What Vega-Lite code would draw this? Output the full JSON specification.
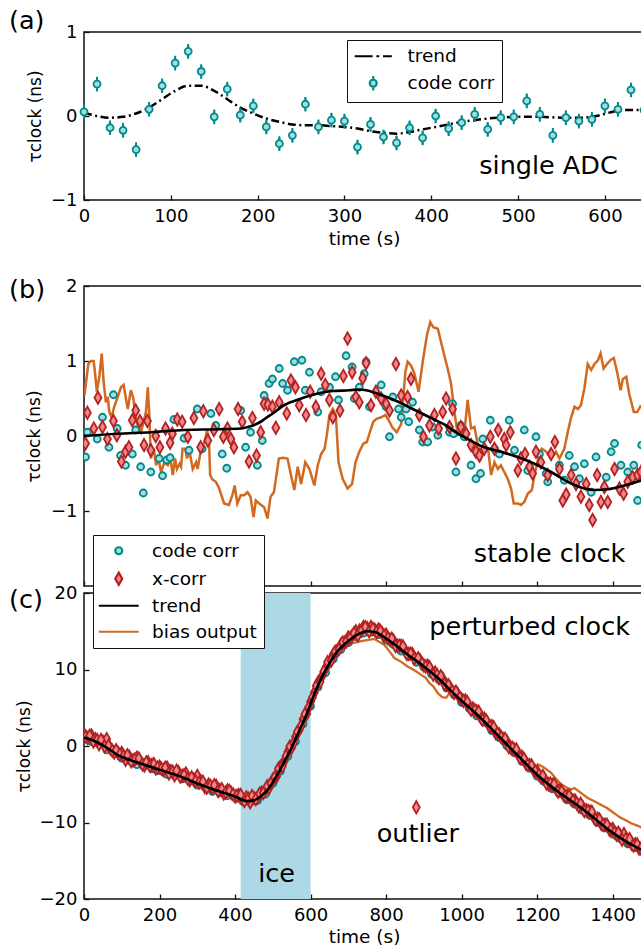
{
  "$schema": "https://vega.github.io/schema/vega-lite/v6.json",
  "padding": {"left": 8, "top": 7, "right": 0, "bottom": 0},
  "config": {
    "font": "DejaVu Sans",
    "view": {"stroke": "#111", "strokeWidth": 1.5},
    "axis": {"domain": false, "grid": false, "tickSize": -5, "tickColor": "#111", "tickWidth": 1.3, "labelFontSize": 18, "labelColor": "#000", "labelFont": "DejaVu Sans", "titleFont": "DejaVu Sans", "titleFontSize": 18.5, "titleFontWeight": "normal", "titleColor": "#000", "labelPadding": 12, "titlePadding": 6, "labelFlush": false, "format": "d"},
    "title": {"fontSize": 25.5, "fontWeight": "normal", "anchor": "start", "frame": "group", "dx": -75, "offset": 0, "baseline": "alphabetic", "color": "#000", "font": "DejaVu Sans"}
  },
  "datasets": {
    "a_pts": [
      {"t":0,"v":0.05,"err":0.08,"s":"code corr"},{"t":15,"v":0.38,"err":0.08,"s":"code corr"},{"t":30,"v":-0.14,"err":0.08,"s":"code corr"},{"t":45,"v":-0.17,"err":0.08,"s":"code corr"},{"t":60,"v":-0.40,"err":0.08,"s":"code corr"},{"t":75,"v":0.08,"err":0.08,"s":"code corr"},{"t":90,"v":0.36,"err":0.08,"s":"code corr"},{"t":105,"v":0.63,"err":0.08,"s":"code corr"},{"t":120,"v":0.77,"err":0.08,"s":"code corr"},{"t":135,"v":0.53,"err":0.08,"s":"code corr"},{"t":150,"v":-0.01,"err":0.08,"s":"code corr"},{"t":165,"v":0.32,"err":0.08,"s":"code corr"},{"t":180,"v":0.01,"err":0.08,"s":"code corr"},{"t":195,"v":0.12,"err":0.08,"s":"code corr"},{"t":210,"v":-0.13,"err":0.08,"s":"code corr"},{"t":225,"v":-0.33,"err":0.08,"s":"code corr"},{"t":240,"v":-0.23,"err":0.08,"s":"code corr"},{"t":255,"v":0.14,"err":0.08,"s":"code corr"},{"t":270,"v":-0.13,"err":0.08,"s":"code corr"},{"t":285,"v":-0.05,"err":0.08,"s":"code corr"},{"t":300,"v":-0.06,"err":0.08,"s":"code corr"},{"t":315,"v":-0.37,"err":0.08,"s":"code corr"},{"t":330,"v":-0.10,"err":0.08,"s":"code corr"},{"t":345,"v":-0.25,"err":0.08,"s":"code corr"},{"t":360,"v":-0.32,"err":0.08,"s":"code corr"},{"t":375,"v":-0.14,"err":0.08,"s":"code corr"},{"t":390,"v":-0.26,"err":0.08,"s":"code corr"},{"t":405,"v":0.00,"err":0.08,"s":"code corr"},{"t":420,"v":-0.15,"err":0.08,"s":"code corr"},{"t":435,"v":-0.08,"err":0.08,"s":"code corr"},{"t":450,"v":0.02,"err":0.08,"s":"code corr"},{"t":465,"v":-0.16,"err":0.08,"s":"code corr"},{"t":480,"v":-0.02,"err":0.08,"s":"code corr"},{"t":495,"v":-0.01,"err":0.08,"s":"code corr"},{"t":510,"v":0.18,"err":0.08,"s":"code corr"},{"t":525,"v":0.02,"err":0.08,"s":"code corr"},{"t":540,"v":-0.23,"err":0.08,"s":"code corr"},{"t":555,"v":-0.02,"err":0.08,"s":"code corr"},{"t":570,"v":-0.06,"err":0.08,"s":"code corr"},{"t":585,"v":-0.04,"err":0.08,"s":"code corr"},{"t":600,"v":0.12,"err":0.08,"s":"code corr"},{"t":615,"v":0.08,"err":0.08,"s":"code corr"},{"t":630,"v":0.31,"err":0.08,"s":"code corr"},{"t":645,"v":0.07,"err":0.08,"s":"code corr"}
    ],
    "a_trend": [
      {"t":0,"v":0.04},{"t":15,"v":0.0},{"t":30,"v":-0.02},{"t":45,"v":-0.01},{"t":60,"v":0.03},{"t":75,"v":0.1},{"t":90,"v":0.2},{"t":105,"v":0.3},{"t":120,"v":0.36},{"t":135,"v":0.36},{"t":150,"v":0.3},{"t":165,"v":0.2},{"t":180,"v":0.1},{"t":195,"v":0.03},{"t":210,"v":-0.03},{"t":225,"v":-0.07},{"t":240,"v":-0.1},{"t":255,"v":-0.11},{"t":270,"v":-0.11},{"t":285,"v":-0.12},{"t":300,"v":-0.13},{"t":315,"v":-0.15},{"t":330,"v":-0.18},{"t":345,"v":-0.2},{"t":360,"v":-0.21},{"t":375,"v":-0.19},{"t":390,"v":-0.16},{"t":405,"v":-0.13},{"t":420,"v":-0.1},{"t":435,"v":-0.07},{"t":450,"v":-0.05},{"t":465,"v":-0.03},{"t":480,"v":-0.02},{"t":500,"v":-0.01},{"t":525,"v":-0.01},{"t":550,"v":-0.02},{"t":575,"v":-0.02},{"t":590,"v":0.0},{"t":605,"v":0.04},{"t":620,"v":0.07},{"t":645,"v":0.07}
    ],
    "a_text": [{"t":535,"v":-0.69,"label":"single ADC"}],
    "b_pts": [
      {"t":4,"v":-0.28,"s":"code corr"},{"t":9,"v":0.05,"s":"code corr"},{"t":35,"v":-0.04,"s":"code corr"},{"t":49,"v":0.25,"s":"code corr"},{"t":66,"v":-0.15,"s":"code corr"},{"t":78,"v":0.55,"s":"code corr"},{"t":88,"v":0.10,"s":"code corr"},{"t":97,"v":-0.26,"s":"code corr"},{"t":110,"v":-0.39,"s":"code corr"},{"t":128,"v":-0.24,"s":"code corr"},{"t":137,"v":0.08,"s":"code corr"},{"t":150,"v":-0.41,"s":"code corr"},{"t":157,"v":-0.76,"s":"code corr"},{"t":177,"v":-0.48,"s":"code corr"},{"t":199,"v":-0.30,"s":"code corr"},{"t":208,"v":-0.53,"s":"code corr"},{"t":219,"v":-0.32,"s":"code corr"},{"t":228,"v":-0.29,"s":"code corr"},{"t":238,"v":0.22,"s":"code corr"},{"t":265,"v":-0.03,"s":"code corr"},{"t":278,"v":-0.19,"s":"code corr"},{"t":300,"v":0.36,"s":"code corr"},{"t":313,"v":-0.17,"s":"code corr"},{"t":336,"v":0.30,"s":"code corr"},{"t":349,"v":0.14,"s":"code corr"},{"t":366,"v":-0.24,"s":"code corr"},{"t":378,"v":-0.43,"s":"code corr"},{"t":415,"v":0.34,"s":"code corr"},{"t":428,"v":-0.15,"s":"code corr"},{"t":441,"v":0.05,"s":"code corr"},{"t":459,"v":-0.39,"s":"code corr"},{"t":472,"v":-0.06,"s":"code corr"},{"t":477,"v":0.54,"s":"code corr"},{"t":490,"v":0.70,"s":"code corr"},{"t":499,"v":0.76,"s":"code corr"},{"t":517,"v":0.90,"s":"code corr"},{"t":526,"v":0.70,"s":"code corr"},{"t":539,"v":0.61,"s":"code corr"},{"t":557,"v":0.99,"s":"code corr"},{"t":577,"v":1.01,"s":"code corr"},{"t":586,"v":0.61,"s":"code corr"},{"t":597,"v":0.85,"s":"code corr"},{"t":619,"v":0.32,"s":"code corr"},{"t":628,"v":0.59,"s":"code corr"},{"t":650,"v":0.65,"s":"code corr"},{"t":666,"v":0.79,"s":"code corr"},{"t":674,"v":0.48,"s":"code corr"},{"t":694,"v":1.07,"s":"code corr"},{"t":710,"v":0.92,"s":"code corr"},{"t":716,"v":0.50,"s":"code corr"},{"t":729,"v":0.65,"s":"code corr"},{"t":742,"v":0.83,"s":"code corr"},{"t":747,"v":0.99,"s":"code corr"},{"t":756,"v":0.39,"s":"code corr"},{"t":787,"v":0.68,"s":"code corr"},{"t":800,"v":0.39,"s":"code corr"},{"t":809,"v":-0.01,"s":"code corr"},{"t":818,"v":0.52,"s":"code corr"},{"t":833,"v":0.36,"s":"code corr"},{"t":840,"v":0.25,"s":"code corr"},{"t":853,"v":0.36,"s":"code corr"},{"t":860,"v":0.19,"s":"code corr"},{"t":870,"v":0.45,"s":"code corr"},{"t":888,"v":0.08,"s":"code corr"},{"t":897,"v":-0.08,"s":"code corr"},{"t":910,"v":-0.08,"s":"code corr"},{"t":923,"v":0.12,"s":"code corr"},{"t":937,"v":0.01,"s":"code corr"},{"t":968,"v":0.05,"s":"code corr"},{"t":976,"v":0.43,"s":"code corr"},{"t":979,"v":0.03,"s":"code corr"},{"t":985,"v":-0.48,"s":"code corr"},{"t":998,"v":0.14,"s":"code corr"},{"t":1007,"v":-0.01,"s":"code corr"},{"t":1025,"v":-0.39,"s":"code corr"},{"t":1038,"v":-0.57,"s":"code corr"},{"t":1050,"v":-0.50,"s":"code corr"},{"t":1056,"v":-0.04,"s":"code corr"},{"t":1076,"v":0.21,"s":"code corr"},{"t":1087,"v":-0.17,"s":"code corr"},{"t":1100,"v":-0.24,"s":"code corr"},{"t":1126,"v":0.21,"s":"code corr"},{"t":1140,"v":-0.19,"s":"code corr"},{"t":1166,"v":0.08,"s":"code corr"},{"t":1175,"v":-0.46,"s":"code corr"},{"t":1197,"v":-0.01,"s":"code corr"},{"t":1206,"v":-0.24,"s":"code corr"},{"t":1224,"v":-0.50,"s":"code corr"},{"t":1228,"v":-0.61,"s":"code corr"},{"t":1259,"v":-0.39,"s":"code corr"},{"t":1272,"v":-0.59,"s":"code corr"},{"t":1285,"v":-0.26,"s":"code corr"},{"t":1299,"v":-0.41,"s":"code corr"},{"t":1312,"v":-0.57,"s":"code corr"},{"t":1325,"v":-0.37,"s":"code corr"},{"t":1343,"v":-0.75,"s":"code corr"},{"t":1356,"v":-0.28,"s":"code corr"},{"t":1383,"v":-0.55,"s":"code corr"},{"t":1396,"v":-0.21,"s":"code corr"},{"t":1405,"v":-0.10,"s":"code corr"},{"t":1422,"v":-0.39,"s":"code corr"},{"t":1440,"v":-0.48,"s":"code corr"},{"t":1456,"v":-0.39,"s":"code corr"},{"t":1466,"v":-0.86,"s":"code corr"},{"t":1477,"v":-0.12,"s":"code corr"},
      {"t":4,"v":-0.10,"s":"x-corr"},{"t":9,"v":0.31,"s":"x-corr"},{"t":26,"v":0.10,"s":"x-corr"},{"t":37,"v":0.51,"s":"x-corr"},{"t":49,"v":0.12,"s":"x-corr"},{"t":62,"v":-0.04,"s":"x-corr"},{"t":78,"v":0.20,"s":"x-corr"},{"t":87,"v":0.01,"s":"x-corr"},{"t":99,"v":-0.34,"s":"x-corr"},{"t":110,"v":-0.21,"s":"x-corr"},{"t":119,"v":-0.15,"s":"x-corr"},{"t":128,"v":0.21,"s":"x-corr"},{"t":137,"v":0.34,"s":"x-corr"},{"t":148,"v":0.20,"s":"x-corr"},{"t":159,"v":-0.12,"s":"x-corr"},{"t":168,"v":0.20,"s":"x-corr"},{"t":177,"v":-0.19,"s":"x-corr"},{"t":190,"v":0.00,"s":"x-corr"},{"t":201,"v":-0.15,"s":"x-corr"},{"t":216,"v":0.10,"s":"x-corr"},{"t":228,"v":-0.09,"s":"x-corr"},{"t":234,"v":0.03,"s":"x-corr"},{"t":247,"v":0.22,"s":"x-corr"},{"t":260,"v":0.19,"s":"x-corr"},{"t":275,"v":-0.01,"s":"x-corr"},{"t":291,"v":0.24,"s":"x-corr"},{"t":309,"v":-0.15,"s":"x-corr"},{"t":316,"v":0.33,"s":"x-corr"},{"t":328,"v":-0.06,"s":"x-corr"},{"t":344,"v":0.08,"s":"x-corr"},{"t":358,"v":0.36,"s":"x-corr"},{"t":369,"v":-0.01,"s":"x-corr"},{"t":380,"v":0.10,"s":"x-corr"},{"t":389,"v":-0.04,"s":"x-corr"},{"t":397,"v":-0.15,"s":"x-corr"},{"t":408,"v":0.36,"s":"x-corr"},{"t":419,"v":0.19,"s":"x-corr"},{"t":437,"v":-0.34,"s":"x-corr"},{"t":446,"v":0.24,"s":"x-corr"},{"t":457,"v":-0.26,"s":"x-corr"},{"t":468,"v":0.05,"s":"x-corr"},{"t":477,"v":0.43,"s":"x-corr"},{"t":487,"v":0.42,"s":"x-corr"},{"t":499,"v":0.39,"s":"x-corr"},{"t":508,"v":0.11,"s":"x-corr"},{"t":517,"v":0.45,"s":"x-corr"},{"t":537,"v":0.30,"s":"x-corr"},{"t":548,"v":0.74,"s":"x-corr"},{"t":560,"v":0.65,"s":"x-corr"},{"t":570,"v":0.41,"s":"x-corr"},{"t":588,"v":0.28,"s":"x-corr"},{"t":599,"v":0.59,"s":"x-corr"},{"t":614,"v":0.39,"s":"x-corr"},{"t":628,"v":0.83,"s":"x-corr"},{"t":639,"v":0.68,"s":"x-corr"},{"t":650,"v":0.48,"s":"x-corr"},{"t":659,"v":0.25,"s":"x-corr"},{"t":678,"v":0.34,"s":"x-corr"},{"t":687,"v":0.80,"s":"x-corr"},{"t":698,"v":1.30,"s":"x-corr"},{"t":710,"v":0.85,"s":"x-corr"},{"t":720,"v":0.52,"s":"x-corr"},{"t":729,"v":0.45,"s":"x-corr"},{"t":738,"v":0.77,"s":"x-corr"},{"t":747,"v":0.97,"s":"x-corr"},{"t":760,"v":0.41,"s":"x-corr"},{"t":773,"v":0.59,"s":"x-corr"},{"t":787,"v":0.50,"s":"x-corr"},{"t":800,"v":0.43,"s":"x-corr"},{"t":809,"v":0.34,"s":"x-corr"},{"t":826,"v":0.96,"s":"x-corr"},{"t":840,"v":0.54,"s":"x-corr"},{"t":857,"v":0.52,"s":"x-corr"},{"t":866,"v":0.76,"s":"x-corr"},{"t":888,"v":0.28,"s":"x-corr"},{"t":899,"v":-0.01,"s":"x-corr"},{"t":915,"v":0.14,"s":"x-corr"},{"t":928,"v":0.28,"s":"x-corr"},{"t":939,"v":0.10,"s":"x-corr"},{"t":950,"v":0.32,"s":"x-corr"},{"t":959,"v":0.50,"s":"x-corr"},{"t":968,"v":0.12,"s":"x-corr"},{"t":976,"v":0.36,"s":"x-corr"},{"t":985,"v":-0.30,"s":"x-corr"},{"t":998,"v":0.12,"s":"x-corr"},{"t":1012,"v":0.03,"s":"x-corr"},{"t":1025,"v":-0.12,"s":"x-corr"},{"t":1038,"v":-0.21,"s":"x-corr"},{"t":1047,"v":-0.26,"s":"x-corr"},{"t":1060,"v":-0.17,"s":"x-corr"},{"t":1076,"v":-0.01,"s":"x-corr"},{"t":1087,"v":-0.17,"s":"x-corr"},{"t":1097,"v":0.08,"s":"x-corr"},{"t":1113,"v":-0.04,"s":"x-corr"},{"t":1118,"v":-0.12,"s":"x-corr"},{"t":1129,"v":0.05,"s":"x-corr"},{"t":1149,"v":-0.46,"s":"x-corr"},{"t":1157,"v":-0.30,"s":"x-corr"},{"t":1168,"v":-0.24,"s":"x-corr"},{"t":1180,"v":-0.41,"s":"x-corr"},{"t":1188,"v":-0.50,"s":"x-corr"},{"t":1197,"v":-0.21,"s":"x-corr"},{"t":1210,"v":-0.35,"s":"x-corr"},{"t":1228,"v":-0.52,"s":"x-corr"},{"t":1237,"v":-0.24,"s":"x-corr"},{"t":1247,"v":-0.08,"s":"x-corr"},{"t":1259,"v":-0.44,"s":"x-corr"},{"t":1268,"v":-0.86,"s":"x-corr"},{"t":1277,"v":-0.78,"s":"x-corr"},{"t":1290,"v":-0.52,"s":"x-corr"},{"t":1303,"v":-0.64,"s":"x-corr"},{"t":1316,"v":-0.81,"s":"x-corr"},{"t":1330,"v":-0.64,"s":"x-corr"},{"t":1338,"v":-0.92,"s":"x-corr"},{"t":1347,"v":-1.12,"s":"x-corr"},{"t":1359,"v":-0.52,"s":"x-corr"},{"t":1369,"v":-0.88,"s":"x-corr"},{"t":1378,"v":-0.68,"s":"x-corr"},{"t":1387,"v":-0.88,"s":"x-corr"},{"t":1405,"v":-0.44,"s":"x-corr"},{"t":1418,"v":-0.70,"s":"x-corr"},{"t":1429,"v":-0.77,"s":"x-corr"},{"t":1440,"v":-0.61,"s":"x-corr"},{"t":1453,"v":-0.55,"s":"x-corr"},{"t":1466,"v":-0.52,"s":"x-corr"},{"t":1475,"v":-0.48,"s":"x-corr"}
    ],
    "b_trend": [
      {"t":0,"v":0.0},{"t":88,"v":0.03},{"t":177,"v":0.05},{"t":265,"v":0.08},{"t":353,"v":0.09},{"t":415,"v":0.10},{"t":441,"v":0.13},{"t":468,"v":0.19},{"t":482,"v":0.24},{"t":503,"v":0.31},{"t":526,"v":0.40},{"t":570,"v":0.49},{"t":614,"v":0.56},{"t":659,"v":0.60},{"t":703,"v":0.61},{"t":729,"v":0.62},{"t":747,"v":0.61},{"t":791,"v":0.54},{"t":835,"v":0.45},{"t":879,"v":0.34},{"t":923,"v":0.23},{"t":959,"v":0.14},{"t":985,"v":0.05},{"t":1016,"v":-0.04},{"t":1060,"v":-0.15},{"t":1104,"v":-0.21},{"t":1149,"v":-0.28},{"t":1193,"v":-0.37},{"t":1237,"v":-0.48},{"t":1281,"v":-0.61},{"t":1325,"v":-0.70},{"t":1352,"v":-0.72},{"t":1387,"v":-0.71},{"t":1431,"v":-0.66},{"t":1483,"v":-0.58}
    ],
    "b_bias": [
      {"t":1,"v":0.54},{"t":11.5,"v":0.96},{"t":18.5,"v":1.0},{"t":25.6,"v":1.0},{"t":29,"v":0.85},{"t":34,"v":0.59},{"t":41,"v":0.81},{"t":47,"v":1.10},{"t":52,"v":0.72},{"t":58,"v":0.45},{"t":63,"v":0.52},{"t":67,"v":0.32},{"t":73,"v":0.25},{"t":80,"v":0.39},{"t":89,"v":0.52},{"t":98,"v":0.65},{"t":105,"v":0.68},{"t":111,"v":0.50},{"t":116,"v":0.36},{"t":124,"v":0.61},{"t":131,"v":0.50},{"t":135,"v":0.28},{"t":142,"v":0.14},{"t":151,"v":0.05},{"t":164,"v":0.32},{"t":169,"v":0.65},{"t":173,"v":0.28},{"t":177,"v":-0.30},{"t":185,"v":-0.17},{"t":191,"v":-0.39},{"t":197,"v":-0.30},{"t":204,"v":-0.48},{"t":213,"v":-0.35},{"t":222,"v":-0.39},{"t":229,"v":-0.30},{"t":235,"v":-0.52},{"t":241,"v":-0.30},{"t":246,"v":-0.44},{"t":253,"v":-0.37},{"t":257,"v":-0.41},{"t":261,"v":-0.17},{"t":268,"v":-0.17},{"t":273,"v":-0.30},{"t":279,"v":-0.19},{"t":288,"v":-0.44},{"t":297,"v":-0.35},{"t":301,"v":-0.44},{"t":310,"v":-0.17},{"t":319,"v":-0.08},{"t":326,"v":0.07},{"t":331,"v":-0.04},{"t":334,"v":-0.52},{"t":340,"v":-0.58},{"t":349,"v":-0.61},{"t":358,"v":-0.70},{"t":371,"v":-0.90},{"t":384,"v":-0.92},{"t":393,"v":-0.79},{"t":399,"v":-0.66},{"t":406,"v":-0.90},{"t":415,"v":-0.79},{"t":424,"v":-0.79},{"t":433,"v":-0.75},{"t":441,"v":-0.81},{"t":449,"v":-1.08},{"t":455,"v":-0.86},{"t":464,"v":-0.90},{"t":477,"v":-0.95},{"t":486,"v":-1.10},{"t":494,"v":-0.81},{"t":503,"v":-0.75},{"t":516,"v":-0.30},{"t":526,"v":-0.29},{"t":539,"v":-0.30},{"t":548,"v":-0.52},{"t":557,"v":-0.72},{"t":566,"v":-0.41},{"t":575,"v":-0.64},{"t":586,"v":-0.35},{"t":597,"v":-0.44},{"t":610,"v":-0.66},{"t":619,"v":-0.39},{"t":628,"v":-0.24},{"t":637,"v":-0.17},{"t":643,"v":0.01},{"t":650,"v":0.28},{"t":659,"v":0.36},{"t":667,"v":0.28},{"t":674,"v":-0.35},{"t":685,"v":-0.57},{"t":698,"v":-0.70},{"t":710,"v":-0.64},{"t":719,"v":-0.35},{"t":729,"v":-0.21},{"t":740,"v":-0.10},{"t":749,"v":-0.08},{"t":757,"v":0.05},{"t":766,"v":0.19},{"t":775,"v":0.23},{"t":787,"v":0.25},{"t":798,"v":0.28},{"t":807,"v":0.21},{"t":816,"v":0.12},{"t":828,"v":0.05},{"t":840,"v":0.16},{"t":851,"v":0.85},{"t":857,"v":0.99},{"t":866,"v":0.94},{"t":875,"v":0.83},{"t":886,"v":0.59},{"t":897,"v":0.99},{"t":908,"v":1.34},{"t":917,"v":1.52},{"t":925,"v":1.45},{"t":937,"v":1.43},{"t":950,"v":1.16},{"t":963,"v":0.90},{"t":972,"v":0.70},{"t":981,"v":0.32},{"t":990,"v":0.01},{"t":998,"v":0.14},{"t":1007,"v":0.03},{"t":1016,"v":0.48},{"t":1025,"v":0.10},{"t":1034,"v":0.12},{"t":1043,"v":-0.12},{"t":1051,"v":-0.30},{"t":1060,"v":-0.17},{"t":1071,"v":-0.21},{"t":1078,"v":-0.52},{"t":1087,"v":-0.35},{"t":1096,"v":-0.44},{"t":1104,"v":-0.39},{"t":1113,"v":-0.48},{"t":1122,"v":-0.57},{"t":1131,"v":-0.70},{"t":1138,"v":-0.90},{"t":1149,"v":-0.90},{"t":1157,"v":-0.92},{"t":1166,"v":-0.88},{"t":1175,"v":-0.77},{"t":1186,"v":-0.72},{"t":1193,"v":-0.52},{"t":1203,"v":-0.30},{"t":1212,"v":-0.17},{"t":1224,"v":-0.21},{"t":1237,"v":-0.30},{"t":1250,"v":-0.21},{"t":1259,"v":-0.30},{"t":1272,"v":-0.17},{"t":1281,"v":0.05},{"t":1290,"v":0.25},{"t":1299,"v":0.39},{"t":1308,"v":0.36},{"t":1316,"v":0.41},{"t":1325,"v":0.63},{"t":1334,"v":0.96},{"t":1343,"v":0.88},{"t":1352,"v":0.96},{"t":1361,"v":1.01},{"t":1368,"v":1.10},{"t":1376,"v":0.90},{"t":1385,"v":0.96},{"t":1394,"v":1.01},{"t":1403,"v":1.04},{"t":1412,"v":0.85},{"t":1421,"v":0.61},{"t":1427,"v":0.76},{"t":1436,"v":0.79},{"t":1444,"v":0.56},{"t":1456,"v":0.32},{"t":1465,"v":0.32},{"t":1475,"v":0.41}
    ],
    "b_text": [{"t":1233,"v":-1.68,"label":"stable clock"}],
    "c_pts": [
      {"t":0,"v":1.6,"s":"code corr"},{"t":20,"v":0.57,"s":"code corr"},{"t":40,"v":0.23,"s":"code corr"},{"t":60,"v":-0.5,"s":"code corr"},{"t":80,"v":-0.97,"s":"code corr"},{"t":100,"v":-1.6,"s":"code corr"},{"t":120,"v":-1.9,"s":"code corr"},{"t":140,"v":-2.43,"s":"code corr"},{"t":160,"v":-2.56,"s":"code corr"},{"t":180,"v":-2.98,"s":"code corr"},{"t":200,"v":-3.2,"s":"code corr"},{"t":220,"v":-3.72,"s":"code corr"},{"t":240,"v":-3.84,"s":"code corr"},{"t":260,"v":-4.3,"s":"code corr"},{"t":280,"v":-4.6,"s":"code corr"},{"t":300,"v":-5.1,"s":"code corr"},{"t":320,"v":-5.36,"s":"code corr"},{"t":340,"v":-5.92,"s":"code corr"},{"t":360,"v":-6.06,"s":"code corr"},{"t":380,"v":-6.48,"s":"code corr"},{"t":400,"v":-6.7,"s":"code corr"},{"t":420,"v":-7.2,"s":"code corr"},{"t":440,"v":-7.35,"s":"code corr"},{"t":460,"v":-7.1,"s":"code corr"},{"t":480,"v":-6.3,"s":"code corr"},{"t":500,"v":-4.9,"s":"code corr"},{"t":520,"v":-3.3,"s":"code corr"},{"t":540,"v":-1.35,"s":"code corr"},{"t":560,"v":0.6,"s":"code corr"},{"t":580,"v":2.9,"s":"code corr"},{"t":600,"v":5.2,"s":"code corr"},{"t":620,"v":7.7,"s":"code corr"},{"t":640,"v":9.6,"s":"code corr"},{"t":660,"v":11.35,"s":"code corr"},{"t":680,"v":12.6,"s":"code corr"},{"t":700,"v":13.5,"s":"code corr"},{"t":720,"v":14.3,"s":"code corr"},{"t":740,"v":14.75,"s":"code corr"},{"t":760,"v":14.85,"s":"code corr"},{"t":780,"v":14.55,"s":"code corr"},{"t":800,"v":13.85,"s":"code corr"},{"t":820,"v":13.25,"s":"code corr"},{"t":840,"v":12.4,"s":"code corr"},{"t":860,"v":11.75,"s":"code corr"},{"t":880,"v":10.95,"s":"code corr"},{"t":900,"v":10.3,"s":"code corr"},{"t":920,"v":9.4,"s":"code corr"},{"t":940,"v":8.65,"s":"code corr"},{"t":960,"v":7.6,"s":"code corr"},{"t":980,"v":6.73,"s":"code corr"},{"t":1000,"v":5.7,"s":"code corr"},{"t":1020,"v":4.93,"s":"code corr"},{"t":1040,"v":3.93,"s":"code corr"},{"t":1060,"v":3.1,"s":"code corr"},{"t":1080,"v":2.0,"s":"code corr"},{"t":1100,"v":1.1,"s":"code corr"},{"t":1120,"v":0.0,"s":"code corr"},{"t":1140,"v":-0.9,"s":"code corr"},{"t":1160,"v":-2.0,"s":"code corr"},{"t":1180,"v":-2.9,"s":"code corr"},{"t":1200,"v":-3.93,"s":"code corr"},{"t":1220,"v":-4.7,"s":"code corr"},{"t":1240,"v":-5.6,"s":"code corr"},{"t":1260,"v":-6.23,"s":"code corr"},{"t":1280,"v":-7.03,"s":"code corr"},{"t":1300,"v":-7.6,"s":"code corr"},{"t":1320,"v":-8.43,"s":"code corr"},{"t":1340,"v":-9.1,"s":"code corr"},{"t":1360,"v":-10.0,"s":"code corr"},{"t":1380,"v":-10.7,"s":"code corr"},{"t":1400,"v":-11.53,"s":"code corr"},{"t":1420,"v":-12.1,"s":"code corr"},{"t":1440,"v":-12.8,"s":"code corr"},{"t":1460,"v":-13.25,"s":"code corr"},
      {"t":0,"v":1.5,"s":"x-corr"},{"t":10,"v":1.03,"s":"x-corr"},{"t":20,"v":1.37,"s":"x-corr"},{"t":30,"v":0.9,"s":"x-corr"},{"t":40,"v":0.23,"s":"x-corr"},{"t":50,"v":0.57,"s":"x-corr"},{"t":60,"v":0.9,"s":"x-corr"},{"t":70,"v":-0.33,"s":"x-corr"},{"t":80,"v":-0.87,"s":"x-corr"},{"t":90,"v":-0.9,"s":"x-corr"},{"t":100,"v":-0.9,"s":"x-corr"},{"t":110,"v":-1.8,"s":"x-corr"},{"t":120,"v":-1.4,"s":"x-corr"},{"t":130,"v":-1.87,"s":"x-corr"},{"t":140,"v":-1.53,"s":"x-corr"},{"t":150,"v":-2.1,"s":"x-corr"},{"t":160,"v":-2.56,"s":"x-corr"},{"t":170,"v":-2.12,"s":"x-corr"},{"t":180,"v":-2.48,"s":"x-corr"},{"t":190,"v":-2.94,"s":"x-corr"},{"t":200,"v":-2.7,"s":"x-corr"},{"t":210,"v":-3.16,"s":"x-corr"},{"t":220,"v":-2.82,"s":"x-corr"},{"t":230,"v":-3.28,"s":"x-corr"},{"t":240,"v":-3.84,"s":"x-corr"},{"t":250,"v":-3.4,"s":"x-corr"},{"t":260,"v":-3.9,"s":"x-corr"},{"t":270,"v":-3.6,"s":"x-corr"},{"t":280,"v":-4.5,"s":"x-corr"},{"t":290,"v":-4.4,"s":"x-corr"},{"t":300,"v":-3.9,"s":"x-corr"},{"t":310,"v":-4.68,"s":"x-corr"},{"t":320,"v":-5.36,"s":"x-corr"},{"t":330,"v":-5.04,"s":"x-corr"},{"t":340,"v":-5.52,"s":"x-corr"},{"t":350,"v":-5.2,"s":"x-corr"},{"t":360,"v":-5.76,"s":"x-corr"},{"t":370,"v":-6.22,"s":"x-corr"},{"t":380,"v":-5.78,"s":"x-corr"},{"t":390,"v":-6.14,"s":"x-corr"},{"t":400,"v":-6.6,"s":"x-corr"},{"t":410,"v":-6.4,"s":"x-corr"},{"t":420,"v":-6.9,"s":"x-corr"},{"t":430,"v":-6.7,"s":"x-corr"},{"t":440,"v":-7.35,"s":"x-corr"},{"t":450,"v":-6.8,"s":"x-corr"},{"t":460,"v":-6.7,"s":"x-corr"},{"t":470,"v":-6.1,"s":"x-corr"},{"t":480,"v":-5.8,"s":"x-corr"},{"t":490,"v":-5.5,"s":"x-corr"},{"t":500,"v":-4.4,"s":"x-corr"},{"t":510,"v":-4.0,"s":"x-corr"},{"t":520,"v":-2.7,"s":"x-corr"},{"t":530,"v":-2.0,"s":"x-corr"},{"t":540,"v":-0.75,"s":"x-corr"},{"t":550,"v":-0.2,"s":"x-corr"},{"t":560,"v":1.2,"s":"x-corr"},{"t":570,"v":2.1,"s":"x-corr"},{"t":580,"v":3.5,"s":"x-corr"},{"t":590,"v":4.2,"s":"x-corr"},{"t":600,"v":5.8,"s":"x-corr"},{"t":610,"v":7.0,"s":"x-corr"},{"t":620,"v":8.3,"s":"x-corr"},{"t":630,"v":9.1,"s":"x-corr"},{"t":640,"v":10.2,"s":"x-corr"},{"t":650,"v":11.0,"s":"x-corr"},{"t":660,"v":11.95,"s":"x-corr"},{"t":670,"v":12.4,"s":"x-corr"},{"t":680,"v":13.2,"s":"x-corr"},{"t":690,"v":13.5,"s":"x-corr"},{"t":700,"v":14.2,"s":"x-corr"},{"t":710,"v":14.4,"s":"x-corr"},{"t":720,"v":15.0,"s":"x-corr"},{"t":730,"v":15.1,"s":"x-corr"},{"t":740,"v":15.55,"s":"x-corr"},{"t":750,"v":15.4,"s":"x-corr"},{"t":760,"v":15.55,"s":"x-corr"},{"t":770,"v":15.2,"s":"x-corr"},{"t":780,"v":15.25,"s":"x-corr"},{"t":790,"v":14.7,"s":"x-corr"},{"t":800,"v":14.55,"s":"x-corr"},{"t":810,"v":13.9,"s":"x-corr"},{"t":820,"v":13.75,"s":"x-corr"},{"t":830,"v":13.1,"s":"x-corr"},{"t":840,"v":13.1,"s":"x-corr"},{"t":850,"v":12.5,"s":"x-corr"},{"t":860,"v":12.05,"s":"x-corr"},{"t":870,"v":12.0,"s":"x-corr"},{"t":880,"v":-8.0,"s":"x-corr"},{"t":890,"v":11.2,"s":"x-corr"},{"t":900,"v":10.5,"s":"x-corr"},{"t":910,"v":10.5,"s":"x-corr"},{"t":920,"v":9.8,"s":"x-corr"},{"t":930,"v":9.6,"s":"x-corr"},{"t":940,"v":8.85,"s":"x-corr"},{"t":950,"v":8.8,"s":"x-corr"},{"t":960,"v":8.0,"s":"x-corr"},{"t":970,"v":7.6,"s":"x-corr"},{"t":980,"v":6.93,"s":"x-corr"},{"t":990,"v":6.77,"s":"x-corr"},{"t":1000,"v":6.1,"s":"x-corr"},{"t":1010,"v":5.97,"s":"x-corr"},{"t":1020,"v":5.13,"s":"x-corr"},{"t":1030,"v":4.9,"s":"x-corr"},{"t":1040,"v":4.53,"s":"x-corr"},{"t":1050,"v":3.77,"s":"x-corr"},{"t":1060,"v":3.6,"s":"x-corr"},{"t":1070,"v":2.9,"s":"x-corr"},{"t":1080,"v":2.6,"s":"x-corr"},{"t":1090,"v":1.7,"s":"x-corr"},{"t":1100,"v":1.5,"s":"x-corr"},{"t":1110,"v":0.9,"s":"x-corr"},{"t":1120,"v":0.6,"s":"x-corr"},{"t":1130,"v":-0.2,"s":"x-corr"},{"t":1140,"v":-0.5,"s":"x-corr"},{"t":1150,"v":-1.1,"s":"x-corr"},{"t":1160,"v":-1.4,"s":"x-corr"},{"t":1170,"v":-2.3,"s":"x-corr"},{"t":1180,"v":-2.5,"s":"x-corr"},{"t":1190,"v":-3.07,"s":"x-corr"},{"t":1200,"v":-3.33,"s":"x-corr"},{"t":1210,"v":-4.1,"s":"x-corr"},{"t":1220,"v":-4.3,"s":"x-corr"},{"t":1230,"v":-5.0,"s":"x-corr"},{"t":1240,"v":-5.1,"s":"x-corr"},{"t":1250,"v":-5.57,"s":"x-corr"},{"t":1260,"v":-5.73,"s":"x-corr"},{"t":1270,"v":-6.4,"s":"x-corr"},{"t":1280,"v":-6.53,"s":"x-corr"},{"t":1290,"v":-6.97,"s":"x-corr"},{"t":1300,"v":-7.1,"s":"x-corr"},{"t":1310,"v":-7.87,"s":"x-corr"},{"t":1320,"v":-7.93,"s":"x-corr"},{"t":1330,"v":-8.4,"s":"x-corr"},{"t":1340,"v":-8.6,"s":"x-corr"},{"t":1350,"v":-9.3,"s":"x-corr"},{"t":1360,"v":-9.5,"s":"x-corr"},{"t":1370,"v":-10.2,"s":"x-corr"},{"t":1380,"v":-10.3,"s":"x-corr"},{"t":1390,"v":-10.8,"s":"x-corr"},{"t":1400,"v":-10.83,"s":"x-corr"},{"t":1410,"v":-11.57,"s":"x-corr"},{"t":1420,"v":-11.7,"s":"x-corr"},{"t":1430,"v":-11.5,"s":"x-corr"},{"t":1440,"v":-12.4,"s":"x-corr"},{"t":1450,"v":-12.8,"s":"x-corr"},{"t":1460,"v":-12.85,"s":"x-corr"},{"t":1470,"v":-13.4,"s":"x-corr"},
      {"t":5,"v":1.22,"s":"x-corr"},{"t":15,"v":1.35,"s":"x-corr"},{"t":25,"v":0.59,"s":"x-corr"},{"t":35,"v":0.77,"s":"x-corr"},{"t":45,"v":0.8,"s":"x-corr"},{"t":55,"v":-0.07,"s":"x-corr"},{"t":65,"v":0.04,"s":"x-corr"},{"t":75,"v":-0.6,"s":"x-corr"},{"t":85,"v":-0.54,"s":"x-corr"},{"t":95,"v":-1.1,"s":"x-corr"},{"t":105,"v":-1.3,"s":"x-corr"},{"t":115,"v":-1.2,"s":"x-corr"},{"t":125,"v":-1.99,"s":"x-corr"},{"t":135,"v":-1.75,"s":"x-corr"},{"t":145,"v":-1.62,"s":"x-corr"},{"t":155,"v":-2.38,"s":"x-corr"},{"t":165,"v":-2.14,"s":"x-corr"},{"t":175,"v":-2.6,"s":"x-corr"},{"t":185,"v":-2.36,"s":"x-corr"},{"t":195,"v":-2.82,"s":"x-corr"},{"t":205,"v":-2.98,"s":"x-corr"},{"t":215,"v":-2.84,"s":"x-corr"},{"t":225,"v":-3.6,"s":"x-corr"},{"t":235,"v":-3.36,"s":"x-corr"},{"t":245,"v":-3.22,"s":"x-corr"},{"t":255,"v":-4.0,"s":"x-corr"},{"t":265,"v":-3.8,"s":"x-corr"},{"t":275,"v":-4.3,"s":"x-corr"},{"t":285,"v":-4.1,"s":"x-corr"},{"t":295,"v":-4.6,"s":"x-corr"},{"t":305,"v":-4.79,"s":"x-corr"},{"t":315,"v":-4.67,"s":"x-corr"},{"t":325,"v":-5.45,"s":"x-corr"},{"t":335,"v":-5.23,"s":"x-corr"},{"t":345,"v":-5.11,"s":"x-corr"},{"t":355,"v":-5.88,"s":"x-corr"},{"t":365,"v":-5.64,"s":"x-corr"},{"t":375,"v":-6.1,"s":"x-corr"},{"t":385,"v":-5.86,"s":"x-corr"},{"t":395,"v":-6.32,"s":"x-corr"},{"t":405,"v":-6.5,"s":"x-corr"},{"t":415,"v":-6.4,"s":"x-corr"},{"t":425,"v":-7.2,"s":"x-corr"},{"t":435,"v":-6.88,"s":"x-corr"},{"t":445,"v":-6.53,"s":"x-corr"},{"t":455,"v":-6.95,"s":"x-corr"},{"t":465,"v":-6.25,"s":"x-corr"},{"t":475,"v":-6.15,"s":"x-corr"},{"t":485,"v":-5.25,"s":"x-corr"},{"t":495,"v":-4.9,"s":"x-corr"},{"t":505,"v":-4.1,"s":"x-corr"},{"t":515,"v":-2.95,"s":"x-corr"},{"t":525,"v":-2.65,"s":"x-corr"},{"t":535,"v":-1.33,"s":"x-corr"},{"t":545,"v":-0.08,"s":"x-corr"},{"t":555,"v":0.35,"s":"x-corr"},{"t":565,"v":1.85,"s":"x-corr"},{"t":575,"v":2.65,"s":"x-corr"},{"t":585,"v":4.15,"s":"x-corr"},{"t":595,"v":5.05,"s":"x-corr"},{"t":605,"v":6.35,"s":"x-corr"},{"t":615,"v":7.85,"s":"x-corr"},{"t":625,"v":8.35,"s":"x-corr"},{"t":635,"v":9.75,"s":"x-corr"},{"t":645,"v":10.95,"s":"x-corr"},{"t":655,"v":11.18,"s":"x-corr"},{"t":665,"v":12.33,"s":"x-corr"},{"t":675,"v":12.65,"s":"x-corr"},{"t":685,"v":13.55,"s":"x-corr"},{"t":695,"v":13.7,"s":"x-corr"},{"t":705,"v":14.1,"s":"x-corr"},{"t":715,"v":14.75,"s":"x-corr"},{"t":725,"v":14.45,"s":"x-corr"},{"t":735,"v":15.08,"s":"x-corr"},{"t":745,"v":15.53,"s":"x-corr"},{"t":755,"v":14.98,"s":"x-corr"},{"t":765,"v":15.33,"s":"x-corr"},{"t":775,"v":14.88,"s":"x-corr"},{"t":785,"v":15.03,"s":"x-corr"},{"t":795,"v":14.43,"s":"x-corr"},{"t":805,"v":14.08,"s":"x-corr"},{"t":815,"v":14.03,"s":"x-corr"},{"t":825,"v":13.08,"s":"x-corr"},{"t":835,"v":13.1,"s":"x-corr"},{"t":845,"v":13.0,"s":"x-corr"},{"t":855,"v":12.03,"s":"x-corr"},{"t":865,"v":12.08,"s":"x-corr"},{"t":875,"v":11.43,"s":"x-corr"},{"t":885,"v":11.48,"s":"x-corr"},{"t":895,"v":10.8,"s":"x-corr"},{"t":905,"v":10.4,"s":"x-corr"},{"t":915,"v":10.3,"s":"x-corr"},{"t":925,"v":9.3,"s":"x-corr"},{"t":935,"v":9.28,"s":"x-corr"},{"t":945,"v":9.13,"s":"x-corr"},{"t":955,"v":8.05,"s":"x-corr"},{"t":965,"v":7.95,"s":"x-corr"},{"t":975,"v":7.17,"s":"x-corr"},{"t":985,"v":7.1,"s":"x-corr"},{"t":995,"v":6.34,"s":"x-corr"},{"t":1005,"v":5.89,"s":"x-corr"},{"t":1015,"v":5.75,"s":"x-corr"},{"t":1025,"v":4.72,"s":"x-corr"},{"t":1035,"v":4.67,"s":"x-corr"},{"t":1045,"v":4.5,"s":"x-corr"},{"t":1055,"v":3.44,"s":"x-corr"},{"t":1065,"v":3.35,"s":"x-corr"},{"t":1075,"v":2.55,"s":"x-corr"},{"t":1085,"v":2.45,"s":"x-corr"},{"t":1095,"v":1.65,"s":"x-corr"},{"t":1105,"v":1.15,"s":"x-corr"},{"t":1115,"v":0.95,"s":"x-corr"},{"t":1125,"v":-0.15,"s":"x-corr"},{"t":1135,"v":-0.25,"s":"x-corr"},{"t":1145,"v":-0.45,"s":"x-corr"},{"t":1155,"v":-1.55,"s":"x-corr"},{"t":1165,"v":-1.65,"s":"x-corr"},{"t":1175,"v":-2.45,"s":"x-corr"},{"t":1185,"v":-2.54,"s":"x-corr"},{"t":1195,"v":-3.3,"s":"x-corr"},{"t":1205,"v":-3.77,"s":"x-corr"},{"t":1215,"v":-3.9,"s":"x-corr"},{"t":1225,"v":-4.9,"s":"x-corr"},{"t":1235,"v":-4.9,"s":"x-corr"},{"t":1245,"v":-4.99,"s":"x-corr"},{"t":1255,"v":-5.95,"s":"x-corr"},{"t":1265,"v":-5.92,"s":"x-corr"},{"t":1275,"v":-6.57,"s":"x-corr"},{"t":1285,"v":-6.5,"s":"x-corr"},{"t":1295,"v":-7.14,"s":"x-corr"},{"t":1305,"v":-7.49,"s":"x-corr"},{"t":1315,"v":-7.55,"s":"x-corr"},{"t":1325,"v":-8.52,"s":"x-corr"},{"t":1335,"v":-8.5,"s":"x-corr"},{"t":1345,"v":-8.6,"s":"x-corr"},{"t":1355,"v":-9.6,"s":"x-corr"},{"t":1365,"v":-9.6,"s":"x-corr"},{"t":1375,"v":-10.3,"s":"x-corr"},{"t":1385,"v":-10.3,"s":"x-corr"},{"t":1395,"v":-10.97,"s":"x-corr"},{"t":1405,"v":-11.3,"s":"x-corr"},{"t":1415,"v":-11.34,"s":"x-corr"},{"t":1425,"v":-12.25,"s":"x-corr"},{"t":1435,"v":-12.15,"s":"x-corr"},{"t":1445,"v":-12.15,"s":"x-corr"},{"t":1455,"v":-13.03,"s":"x-corr"},{"t":1465,"v":-12.88,"s":"x-corr"},{"t":1475,"v":-13.4,"s":"x-corr"}
    ],
    "c_trend": [
      {"t":0,"v":1.1},{"t":30,"v":0.6},{"t":60,"v":-0.2},{"t":90,"v":-1.2},{"t":120,"v":-1.8},{"t":150,"v":-2.3},{"t":200,"v":-3.1},{"t":250,"v":-3.9},{"t":300,"v":-4.9},{"t":350,"v":-5.8},{"t":400,"v":-6.6},{"t":430,"v":-7.2},{"t":450,"v":-7.1},{"t":470,"v":-6.5},{"t":490,"v":-5.5},{"t":510,"v":-3.9},{"t":530,"v":-2.1},{"t":550,"v":-0.2},{"t":570,"v":2.0},{"t":590,"v":4.2},{"t":610,"v":6.8},{"t":630,"v":9.0},{"t":650,"v":10.8},{"t":670,"v":12.3},{"t":690,"v":13.3},{"t":710,"v":14.1},{"t":730,"v":14.7},{"t":750,"v":15.0},{"t":770,"v":14.9},{"t":790,"v":14.4},{"t":810,"v":13.7},{"t":830,"v":13.0},{"t":850,"v":12.2},{"t":870,"v":11.5},{"t":890,"v":10.8},{"t":910,"v":10.0},{"t":930,"v":9.2},{"t":950,"v":8.3},{"t":970,"v":7.3},{"t":1000,"v":5.9},{"t":1030,"v":4.6},{"t":1060,"v":3.2},{"t":1090,"v":1.7},{"t":1120,"v":0.2},{"t":1150,"v":-1.3},{"t":1180,"v":-2.8},{"t":1210,"v":-4.2},{"t":1240,"v":-5.4},{"t":1270,"v":-6.5},{"t":1300,"v":-7.5},{"t":1330,"v":-8.6},{"t":1360,"v":-9.8},{"t":1390,"v":-11.0},{"t":1420,"v":-12.0},{"t":1450,"v":-12.9},{"t":1483,"v":-13.7}
    ],
    "c_bias": [
      {"t":0,"v":1.0},{"t":40,"v":0.2},{"t":80,"v":-1.0},{"t":120,"v":-1.9},{"t":160,"v":-2.6},{"t":200,"v":-3.3},{"t":240,"v":-3.9},{"t":280,"v":-4.8},{"t":320,"v":-5.5},{"t":360,"v":-6.2},{"t":400,"v":-6.9},{"t":430,"v":-7.3},{"t":460,"v":-6.9},{"t":490,"v":-5.6},{"t":520,"v":-3.1},{"t":550,"v":-0.3},{"t":580,"v":3.0},{"t":610,"v":6.6},{"t":640,"v":9.7},{"t":670,"v":12.0},{"t":700,"v":13.3},{"t":734,"v":13.7},{"t":769,"v":14.0},{"t":796,"v":13.2},{"t":810,"v":12.3},{"t":822,"v":11.5},{"t":840,"v":11.0},{"t":857,"v":10.4},{"t":875,"v":9.9},{"t":893,"v":9.3},{"t":905,"v":8.9},{"t":915,"v":8.2},{"t":925,"v":7.8},{"t":937,"v":6.9},{"t":948,"v":6.4},{"t":959,"v":6.3},{"t":972,"v":7.2},{"t":990,"v":6.4},{"t":1020,"v":5.0},{"t":1050,"v":3.7},{"t":1080,"v":2.2},{"t":1110,"v":0.7},{"t":1140,"v":-0.8},{"t":1170,"v":-2.3},{"t":1195,"v":-3.5},{"t":1202,"v":-2.4},{"t":1215,"v":-2.7},{"t":1237,"v":-3.5},{"t":1250,"v":-4.3},{"t":1264,"v":-5.0},{"t":1277,"v":-5.4},{"t":1290,"v":-5.7},{"t":1299,"v":-5.5},{"t":1315,"v":-6.1},{"t":1334,"v":-6.8},{"t":1350,"v":-7.2},{"t":1370,"v":-7.7},{"t":1385,"v":-8.1},{"t":1396,"v":-8.5},{"t":1410,"v":-9.0},{"t":1422,"v":-9.4},{"t":1435,"v":-9.7},{"t":1449,"v":-10.1},{"t":1465,"v":-10.4},{"t":1483,"v":-10.8}
    ],
    "c_ice": [{"start":415,"end":600}],
    "c_text": [{"t":1180,"v":14.45,"label":"perturbed clock"},{"t":884,"v":-12.6,"label":"outlier"},{"t":510,"v":-17.8,"label":"ice"}]
  },
  "spacing": 86,
  "bounds": "flush",
  "resolve": {
    "scale": {"shape": "independent", "fill": "independent", "stroke": "independent"},
    "legend": {"shape": "independent", "fill": "independent", "stroke": "independent"}
  },
  "vconcat": [
    {
      "width": 560,
      "height": 168,
      "title": {"text": "(a)", "dy": 15},
      "layer": [
        {
          "data": {"name": "a_trend"},
          "mark": {"type": "line", "color": "#000", "strokeWidth": 2.5, "strokeDash": [8, 3.5, 2, 3.5], "interpolate": "monotone", "clip": true},
          "encoding": {
            "x": {"field": "t", "type": "quantitative", "title": "time (s)", "scale": {"domain": [0, 645], "nice": false, "zero": false}, "axis": {"values": [0, 100, 200, 300, 400, 500, 600], "title": "time (s)", "titlePadding": 4}},
            "y": {"field": "v", "type": "quantitative", "title": "τclock (ns)", "scale": {"domain": [-1, 1], "nice": false}, "axis": {"values": [-1, 0, 1], "title": "τclock (ns)", "titleFontSize": 17, "titleX": -40}}
          }
        },
        {
          "data": {"name": "a_pts"},
          "mark": {"type": "errorbar", "color": "#008b8b", "thickness": 2},
          "encoding": {
            "x": {"field": "t", "type": "quantitative", "title": "time (s)"},
            "y": {"field": "v", "type": "quantitative", "title": "τclock (ns)"},
            "yError": {"field": "err"}
          }
        },
        {
          "data": {"name": "a_pts"},
          "mark": {"type": "point", "size": 49, "strokeWidth": 1.8, "opacity": 1},
          "encoding": {
            "x": {"field": "t", "type": "quantitative", "title": "time (s)"},
            "y": {"field": "v", "type": "quantitative", "title": "τclock (ns)"},
            "shape": {"field": "s", "type": "nominal", "scale": {"domain": ["trend", "code corr"], "range": ["M-5.3,0L-0.2,0M0.9,0L1.7,0M2.8,0L5.3,0", "M0,-2.1L0,-1M0,1L0,2.1M1,0A1,1,0,1,1,-1,0A1,1,0,1,1,1,0Z"]}, "legend": {"orient": "none", "legendX": 263, "legendY": 8, "title": null, "padding": 7, "rowPadding": 5, "symbolOffset": 10, "labelOffset": 25, "labelFontSize": 18.5, "labelFont": "DejaVu Sans", "labelColor": "#000", "strokeColor": "#111", "fillColor": "#fff", "symbolStrokeWidth": 2.2, "symbolSize": 49, "cornerRadius": 0, "zindex": 1}},
            "fill": {"field": "s", "type": "nominal", "scale": {"domain": ["trend", "code corr"], "range": ["transparent", "#a6dbe2"]}, "legend": {"orient": "none", "legendX": 263, "legendY": 8, "title": null, "padding": 7, "rowPadding": 5, "symbolOffset": 10, "labelOffset": 25, "labelFontSize": 18.5, "labelFont": "DejaVu Sans", "labelColor": "#000", "strokeColor": "#111", "fillColor": "#fff", "symbolStrokeWidth": 2.2, "symbolSize": 49, "cornerRadius": 0, "zindex": 1}},
            "stroke": {"field": "s", "type": "nominal", "scale": {"domain": ["trend", "code corr"], "range": ["#000000", "#008b8b"]}, "legend": {"orient": "none", "legendX": 263, "legendY": 8, "title": null, "padding": 7, "rowPadding": 5, "symbolOffset": 10, "labelOffset": 25, "labelFontSize": 18.5, "labelFont": "DejaVu Sans", "labelColor": "#000", "strokeColor": "#111", "fillColor": "#fff", "symbolStrokeWidth": 2.2, "symbolSize": 49, "cornerRadius": 0, "zindex": 1}}
          }
        },
        {
          "data": {"name": "a_text"},
          "mark": {"type": "text", "fontSize": 25.5, "align": "center", "baseline": "alphabetic", "color": "#000"},
          "encoding": {
            "x": {"field": "t", "type": "quantitative", "title": "time (s)"},
            "y": {"field": "v", "type": "quantitative", "title": "τclock (ns)"},
            "text": {"field": "label"}
          }
        }
      ]
    },
    {
      "spacing": 7,
      "bounds": "flush",
      "resolve": {
        "scale": {"shape": "shared", "fill": "shared", "stroke": "shared"},
        "legend": {"shape": "shared", "fill": "shared", "stroke": "shared"}
      },
      "vconcat": [
        {
          "width": 560,
          "height": 300,
          "title": {"text": "(b)", "dy": 30},
          "layer": [
            {
              "data": {"name": "b_bias"},
              "mark": {"type": "line", "color": "#d2691e", "strokeWidth": 2.5, "clip": true},
              "encoding": {
                "x": {"field": "t", "type": "quantitative", "scale": {"domain": [0, 1483], "nice": false, "zero": false}, "axis": {"values": [0, 200, 400, 600, 800, 1000, 1200, 1400], "labels": false, "title": null}},
                "y": {"field": "v", "type": "quantitative", "title": "τclock (ns)", "scale": {"domain": [-2, 2], "nice": false}, "axis": {"values": [-1, 0, 1, 2], "title": "τclock (ns)", "titleFontSize": 17, "titleX": -41}}
              }
            },
            {
              "data": {"name": "b_pts"},
              "mark": {"type": "point", "size": 49, "strokeWidth": 1.8, "opacity": 1, "clip": true},
              "encoding": {
                "x": {"field": "t", "type": "quantitative"},
                "y": {"field": "v", "type": "quantitative", "title": "τclock (ns)"},
                "shape": {"field": "s", "type": "nominal", "scale": {"domain": ["code corr", "x-corr", "trend", "bias output"], "range": ["M1,0A1,1,0,1,1,-1,0A1,1,0,1,1,1,0Z", "M0,-1.75L1,0L0,1.75L-1,0Z", "M-5.7,0L5.7,0", "M-5.7,0L5.7,0"]}, "legend": {"orient": "none", "legendX": 9, "legendY": 249, "title": null, "padding": 6.5, "rowPadding": 7, "symbolOffset": 10, "labelOffset": 24, "labelFontSize": 18.5, "labelFont": "DejaVu Sans", "labelColor": "#000", "strokeColor": "#111", "fillColor": "#fff", "symbolStrokeWidth": 2.2, "symbolSize": 49, "cornerRadius": 0, "zindex": 1}},
                "fill": {"field": "s", "type": "nominal", "scale": {"domain": ["code corr", "x-corr", "trend", "bias output"], "range": ["#a6dbe2", "#f2878a", "transparent", "transparent"]}, "legend": {"orient": "none", "legendX": 9, "legendY": 249, "title": null, "padding": 6.5, "rowPadding": 7, "symbolOffset": 10, "labelOffset": 24, "labelFontSize": 18.5, "labelFont": "DejaVu Sans", "labelColor": "#000", "strokeColor": "#111", "fillColor": "#fff", "symbolStrokeWidth": 2.2, "symbolSize": 49, "cornerRadius": 0, "zindex": 1}},
                "stroke": {"field": "s", "type": "nominal", "scale": {"domain": ["code corr", "x-corr", "trend", "bias output"], "range": ["#008b8b", "#b22222", "#000000", "#d2691e"]}, "legend": {"orient": "none", "legendX": 9, "legendY": 249, "title": null, "padding": 6.5, "rowPadding": 7, "symbolOffset": 10, "labelOffset": 24, "labelFontSize": 18.5, "labelFont": "DejaVu Sans", "labelColor": "#000", "strokeColor": "#111", "fillColor": "#fff", "symbolStrokeWidth": 2.2, "symbolSize": 49, "cornerRadius": 0, "zindex": 1}}
              }
            },
            {
              "data": {"name": "b_trend"},
              "mark": {"type": "line", "color": "#000", "strokeWidth": 2.7, "interpolate": "monotone", "clip": true},
              "encoding": {
                "x": {"field": "t", "type": "quantitative"},
                "y": {"field": "v", "type": "quantitative", "title": "τclock (ns)"}
              }
            },
            {
              "data": {"name": "b_text"},
              "mark": {"type": "text", "fontSize": 25.5, "align": "center", "baseline": "alphabetic", "color": "#000"},
              "encoding": {
                "x": {"field": "t", "type": "quantitative"},
                "y": {"field": "v", "type": "quantitative", "title": "τclock (ns)"},
                "text": {"field": "label"}
              }
            }
          ]
        },
        {
          "width": 560,
          "height": 306,
          "title": {"text": "(c)", "dy": 33.5},
          "layer": [
            {
              "data": {"name": "c_ice"},
              "mark": {"type": "rect", "color": "#add8e6", "opacity": 1},
              "encoding": {
                "x": {"field": "start", "type": "quantitative", "title": "time (s)", "scale": {"domain": [0, 1483], "nice": false, "zero": false}, "axis": {"values": [0, 200, 400, 600, 800, 1000, 1200, 1400], "title": "time (s)", "titlePadding": 3}},
                "x2": {"field": "end"}
              }
            },
            {
              "data": {"name": "c_bias"},
              "mark": {"type": "line", "color": "#d2691e", "strokeWidth": 2.3, "clip": true},
              "encoding": {
                "x": {"field": "t", "type": "quantitative", "title": "time (s)"},
                "y": {"field": "v", "type": "quantitative", "title": "τclock (ns)", "scale": {"domain": [-20, 20], "nice": false}, "axis": {"values": [-20, -10, 0, 10, 20], "title": "τclock (ns)", "titleFontSize": 17, "titlePadding": 6}}
              }
            },
            {
              "data": {"name": "c_pts"},
              "mark": {"type": "point", "size": 49, "strokeWidth": 1.8, "opacity": 1, "clip": true},
              "encoding": {
                "x": {"field": "t", "type": "quantitative", "title": "time (s)"},
                "y": {"field": "v", "type": "quantitative", "title": "τclock (ns)"},
                "shape": {"field": "s", "type": "nominal", "scale": {"domain": ["code corr", "x-corr", "trend", "bias output"], "range": ["M1,0A1,1,0,1,1,-1,0A1,1,0,1,1,1,0Z", "M0,-1.75L1,0L0,1.75L-1,0Z", "M-5.7,0L5.7,0", "M-5.7,0L5.7,0"]}, "legend": {"orient": "none", "legendX": 9, "legendY": 249, "title": null, "padding": 6.5, "rowPadding": 7, "symbolOffset": 10, "labelOffset": 24, "labelFontSize": 18.5, "labelFont": "DejaVu Sans", "labelColor": "#000", "strokeColor": "#111", "fillColor": "#fff", "symbolStrokeWidth": 2.2, "symbolSize": 49, "cornerRadius": 0, "zindex": 1}},
                "fill": {"field": "s", "type": "nominal", "scale": {"domain": ["code corr", "x-corr", "trend", "bias output"], "range": ["#a6dbe2", "#f2878a", "transparent", "transparent"]}, "legend": {"orient": "none", "legendX": 9, "legendY": 249, "title": null, "padding": 6.5, "rowPadding": 7, "symbolOffset": 10, "labelOffset": 24, "labelFontSize": 18.5, "labelFont": "DejaVu Sans", "labelColor": "#000", "strokeColor": "#111", "fillColor": "#fff", "symbolStrokeWidth": 2.2, "symbolSize": 49, "cornerRadius": 0, "zindex": 1}},
                "stroke": {"field": "s", "type": "nominal", "scale": {"domain": ["code corr", "x-corr", "trend", "bias output"], "range": ["#008b8b", "#b22222", "#000000", "#d2691e"]}, "legend": {"orient": "none", "legendX": 9, "legendY": 249, "title": null, "padding": 6.5, "rowPadding": 7, "symbolOffset": 10, "labelOffset": 24, "labelFontSize": 18.5, "labelFont": "DejaVu Sans", "labelColor": "#000", "strokeColor": "#111", "fillColor": "#fff", "symbolStrokeWidth": 2.2, "symbolSize": 49, "cornerRadius": 0, "zindex": 1}}
              }
            },
            {
              "data": {"name": "c_trend"},
              "mark": {"type": "line", "color": "#000", "strokeWidth": 2.7, "interpolate": "monotone", "clip": true},
              "encoding": {
                "x": {"field": "t", "type": "quantitative", "title": "time (s)"},
                "y": {"field": "v", "type": "quantitative", "title": "τclock (ns)"}
              }
            },
            {
              "data": {"name": "c_text"},
              "mark": {"type": "text", "fontSize": 25.5, "align": "center", "baseline": "alphabetic", "color": "#000"},
              "encoding": {
                "x": {"field": "t", "type": "quantitative", "title": "time (s)"},
                "y": {"field": "v", "type": "quantitative", "title": "τclock (ns)"},
                "text": {"field": "label"}
              }
            }
          ]
        }
      ]
    }
  ]
}
